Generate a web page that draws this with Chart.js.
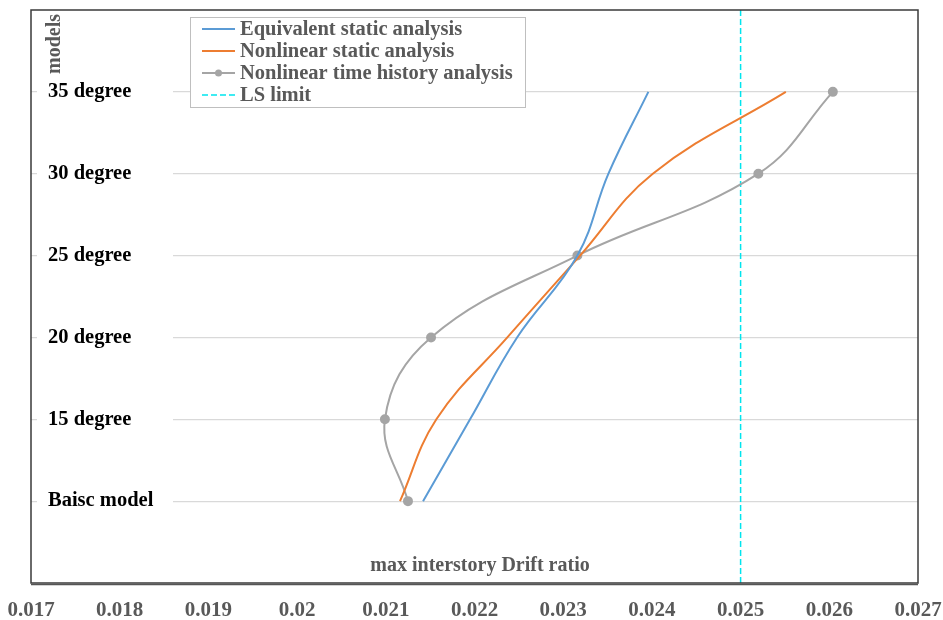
<!DOCTYPE html>
<html>
<head>
<meta charset="utf-8">
<script src="https://cdn.jsdelivr.net/npm/chart.js@4/dist/chart.umd.min.js"></script>
<style>
  html, body { margin: 0; padding: 0; background: #fff; }
  #wrap { width: 943px; height: 620px; }
</style>
</head>
<body>
<div id="wrap"><canvas id="chart"></canvas></div>
<script>
const categories = ['Baisc model', '15 degree', '20 degree', '25 degree', '30 degree', '35 degree'];
const xTicks = [0.017, 0.018, 0.019, 0.02, 0.021, 0.022, 0.023, 0.024, 0.025, 0.026, 0.027];

const equivalentStatic = [0.02142, 0.02195, 0.02248, 0.02316, 0.02351, 0.02396];
const nonlinearStatic = [0.02116, 0.02157, 0.02237, 0.02319, 0.02401, 0.02551];
const nonlinearTimeHistory = [0.02125, 0.02099, 0.02151, 0.02316, 0.02520, 0.02604];
const lsLimit = 0.025;

const SERIF = '"Liberation Serif", "Times New Roman", serif';

function toPoints(values) {
  return values.map((v, i) => ({ x: v, y: i }));
}

// box, legend, titles drawn on top of the plot
const decorations = {
  id: 'decorations',
  beforeDatasetsDraw(chart) {
    const { ctx, chartArea: a } = chart;
    // keep grid lines out of the label column
    ctx.save();
    ctx.fillStyle = '#fff';
    ctx.fillRect(a.left + 6, a.top + 1, 136, a.bottom - a.top - 2);
    ctx.restore();
  },
  afterDraw(chart) {
    const { ctx, chartArea: a } = chart;
    ctx.save();

    // plot border
    ctx.strokeStyle = '#3a3a3a';
    ctx.lineWidth = 1.5;
    ctx.strokeRect(a.left, a.top, a.right - a.left, a.bottom - a.top);
    ctx.strokeStyle = '#555';
    ctx.lineWidth = 1.5;
    ctx.beginPath();
    ctx.moveTo(a.left, a.bottom + 1.5);
    ctx.lineTo(a.right, a.bottom + 1.5);
    ctx.stroke();

    // y title
    ctx.fillStyle = '#595959';
    ctx.font = 'bold 20px ' + SERIF;
    ctx.textAlign = 'center';
    ctx.textBaseline = 'middle';
    ctx.save();
    ctx.translate(55, 44);
    ctx.rotate(-Math.PI / 2);
    ctx.fillText('models', 0, 0);
    ctx.restore();

    // x title inside plot
    ctx.fillText('max interstory Drift ratio', 480, 566);

    // legend
    const lx = 190, ly = 17, lw = 335, lh = 90;
    ctx.fillStyle = '#fff';
    ctx.fillRect(lx, ly, lw, lh);
    ctx.strokeStyle = '#bfbfbf';
    ctx.lineWidth = 1;
    ctx.strokeRect(lx + 0.5, ly + 0.5, lw, lh);
    ctx.textAlign = 'left';
    ctx.font = 'bold 20.5px ' + SERIF;
    chart.data.datasets.forEach((ds, i) => {
      const y = 29 + i * 22;
      ctx.strokeStyle = ds.borderColor;
      ctx.lineWidth = ds.borderWidth;
      ctx.setLineDash(ds.borderDash || []);
      ctx.beginPath();
      ctx.moveTo(202, y);
      ctx.lineTo(235, y);
      ctx.stroke();
      ctx.setLineDash([]);
      if (ds.pointRadius > 0) {
        ctx.fillStyle = ds.pointBackgroundColor;
        ctx.beginPath();
        ctx.arc(218.5, y, 3.5, 0, Math.PI * 2);
        ctx.fill();
      }
      ctx.fillStyle = '#595959';
      ctx.fillText(ds.label, 240, y + 1);
    });
    ctx.restore();
  }
};

new Chart(document.getElementById('chart'), {
  type: 'scatter',
  data: {
    datasets: [
      {
        label: 'Equivalent static analysis',
        data: toPoints(equivalentStatic),
        showLine: true,
        borderColor: '#5b9bd5',
        borderWidth: 2,
        pointRadius: 0,
        tension: 0.4
      },
      {
        label: 'Nonlinear static analysis',
        data: toPoints(nonlinearStatic),
        showLine: true,
        borderColor: '#ed7d31',
        borderWidth: 2,
        pointRadius: 0,
        tension: 0.4
      },
      {
        label: 'Nonlinear time history analysis',
        data: toPoints(nonlinearTimeHistory),
        showLine: true,
        borderColor: '#a5a5a5',
        backgroundColor: '#a5a5a5',
        pointBackgroundColor: '#a5a5a5',
        pointBorderColor: '#a5a5a5',
        borderWidth: 2,
        pointRadius: 4,
        tension: 0.4
      },
      {
        label: 'LS limit',
        data: [{ x: lsLimit, y: -1 }, { x: lsLimit, y: categories.length }],
        showLine: true,
        borderColor: '#00e5ee',
        borderWidth: 1.5,
        borderDash: [6, 3],
        pointRadius: 0
      }
    ]
  },
  options: {
    responsive: true,
    maintainAspectRatio: false,
    animation: false,
    layout: { padding: { left: 31, right: 25, top: 10, bottom: 0 } },
    plugins: {
      legend: { display: false },
      tooltip: { enabled: false }
    },
    scales: {
      x: {
        type: 'linear',
        min: xTicks[0],
        max: xTicks[xTicks.length - 1],
        afterBuildTicks: scale => { scale.ticks = xTicks.map(v => ({ value: v })); },
        afterFit: scale => {
          scale.height = 37;
          scale.paddingLeft = 0;
          scale.paddingRight = 0;
        },
        grid: { display: false, drawTicks: false },
        border: { display: false },
        ticks: {
          padding: 15,
          maxRotation: 0,
          autoSkip: false,
          color: '#595959',
          font: { family: SERIF, size: 21, weight: 'bold' },
          callback: v => String(+v.toFixed(3))
        }
      },
      y: {
        type: 'linear',
        min: -1,
        max: categories.length,
        afterBuildTicks: scale => { scale.ticks = categories.map((c, i) => ({ value: i })); },
        afterFit: scale => {
          scale.width = 0;
          scale.paddingTop = 0;
          scale.paddingBottom = 0;
        },
        grid: { color: '#d9d9d9', lineWidth: 1.2, drawTicks: false },
        border: { display: false },
        ticks: {
          mirror: true,
          z: 1,
          padding: 17,
          autoSkip: false,
          color: '#000',
          font: { family: SERIF, size: 20.5, weight: 'bold' },
          callback: v => categories[v] || ''
        }
      }
    }
  },
  plugins: [decorations]
});
</script>
</body>
</html>
